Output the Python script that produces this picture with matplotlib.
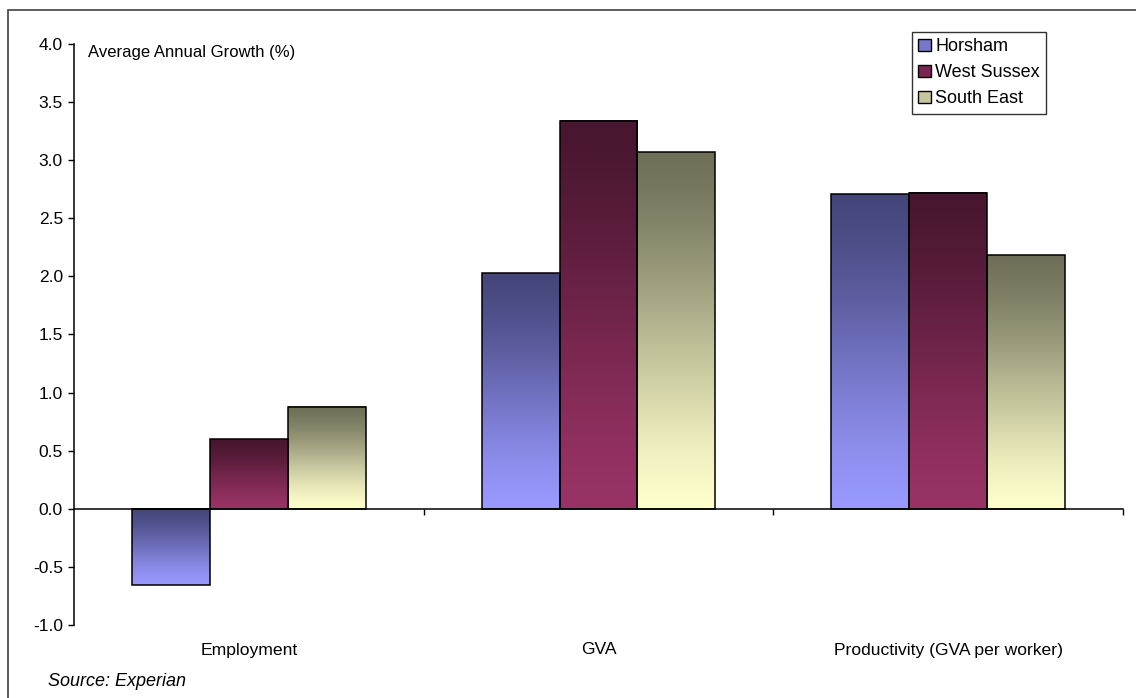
import numpy as np
import matplotlib.pyplot as plt
from matplotlib.colors import LinearSegmentedColormap
from matplotlib.patches import Rectangle

plt.rcParams['font.family'] = ['Liberation Sans', 'DejaVu Sans']

categories = ["Employment", "GVA", "Productivity (GVA per worker)"]
series = ["Horsham", "West Sussex", "South East"]
horsham = [-0.66, 2.03, 2.71]
west_sussex = [0.60, 3.34, 2.72]
south_east = [0.88, 3.07, 2.18]

# top colour, bottom colour for each series gradient
grad_colors = [("#44467a", "#9999ff"),
               ("#48162e", "#993366"),
               ("#6f6f58", "#ffffcc")]

fig = plt.figure(figsize=(11.36, 6.98), dpi=100)
W, H = 1136, 698
ax = fig.add_axes([74 / W, 1 - 625 / H, (1123 - 74) / W, (625 - 44) / H])

# outer frame of the chart area
fig.patches.append(Rectangle((8 / W, -0.05), 1.2, 1 - 10 / H + 0.05,
                             transform=fig.transFigure, fill=False,
                             edgecolor="#404040", linewidth=1.2))

x = np.arange(len(categories))
bw = 0.223
t = np.linspace(0, 1, 256)
# ease the gradient a little so both ends stay flatter
t = 0.5 * t + 0.5 * t * t * (3 - 2 * t)
grad = t.reshape(-1, 1)

for i, (vals, (top, bot)) in enumerate(zip([horsham, west_sussex, south_east], grad_colors)):
    cmap = LinearSegmentedColormap.from_list(series[i], [top, bot])
    bars = ax.bar(x + (i - 1) * bw, vals, bw, facecolor="none",
                  edgecolor="black", linewidth=1.1, zorder=3)
    for b in bars:
        x0, w = b.get_x(), b.get_width()
        y_lo = min(b.get_y(), b.get_y() + b.get_height())
        y_hi = max(b.get_y(), b.get_y() + b.get_height())
        ax.imshow(grad, cmap=cmap, vmin=0, vmax=1,
                  extent=(x0, x0 + w, y_lo, y_hi),
                  aspect="auto", origin="upper", zorder=2,
                  interpolation="bilinear")

ax.set_xlim(-0.5, 2.5)
ax.set_ylim(-1.0, 4.0)
yt = np.arange(-1.0, 4.01, 0.5)
ax.set_yticks(yt)
ax.set_yticklabels([f"{v:.1f}" for v in yt], fontsize=12.5)
ax.tick_params(axis="y", direction="out", length=4, width=1, pad=4)

ax.set_xticks([0.5, 1.5, 2.5])
ax.set_xticklabels([])
ax.tick_params(axis="x", direction="out", length=4, width=1)

for s in ["top", "right"]:
    ax.spines[s].set_visible(False)
ax.spines["bottom"].set_position(("data", 0))
ax.spines["bottom"].set_linewidth(1.1)
ax.spines["left"].set_linewidth(1.1)

for xi, c in zip(x, categories):
    ax.annotate(c, xy=(xi, 0), xycoords=("data", "axes fraction"),
                xytext=(0, -25), textcoords="offset pixels",
                ha="center", va="center", fontsize=12.6)

fig.text(88 / W, 1 - 53 / H, "Average Annual Growth (%)",
         ha="left", va="center", fontsize=12)
fig.text(48 / W, 1 - 681 / H, "Source: Experian", ha="left", va="center",
         fontsize=13, style="italic")

# legend patches
handles = []
for top, bot in grad_colors:
    cmap = LinearSegmentedColormap.from_list("l", [top, bot])
    handles.append(Rectangle((0, 0), 1, 1, facecolor=cmap(0.6),
                             edgecolor="black", linewidth=1))
leg = ax.legend(handles, series, loc="upper right", bbox_to_anchor=(1046 / W, 1 - 32 / H),
                bbox_transform=fig.transFigure, fontsize=13, frameon=True,
                fancybox=False, edgecolor="black", handlelength=0.7,
                handleheight=0.7, handletextpad=0.25, borderpad=0.35,
                labelspacing=0.5, borderaxespad=0)
leg.get_frame().set_linewidth(1.0)

fig.savefig("out.png", dpi=100)
